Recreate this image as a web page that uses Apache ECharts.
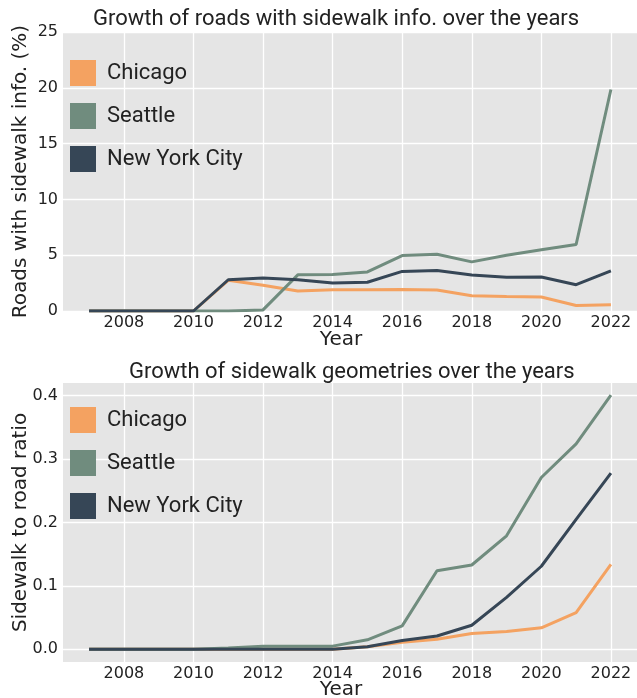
<!DOCTYPE html>
<html>
<head>
<meta charset="utf-8">
<script src="https://cdn.jsdelivr.net/npm/echarts@6/dist/echarts.min.js"></script>
<style>
  html, body { margin: 0; padding: 0; background: #fff; }
  #chart { width: 637px; height: 698px; }
</style>
</head>
<body>
<div id="chart"></div>
<script>
// years on the x axis
const years = [2007, 2008, 2009, 2010, 2011, 2012, 2013, 2014, 2015, 2016, 2017, 2018, 2019, 2020, 2021, 2022]
const yearTicks = [2008, 2010, 2012, 2014, 2016, 2018, 2020, 2022]
const cities = ['Chicago', 'Seattle', 'New York City']

// top: roads with sidewalk info (%)
const infoChicago = [0, 0, 0, 0, 2.75, 2.3, 1.8, 1.9, 1.9, 1.92, 1.88, 1.36, 1.3, 1.25, 0.5, 0.56]
const infoSeattle = [0, 0, 0, 0, 0, 0.1, 3.24, 3.28, 3.5, 4.97, 5.08, 4.4, 5.0, 5.48, 5.96, 19.85]
const infoNYC = [0, 0, 0, 0, 2.8, 2.96, 2.8, 2.5, 2.58, 3.55, 3.62, 3.22, 3.03, 3.05, 2.36, 3.6]

// bottom: sidewalk to road ratio
const ratioChicago = [0, 0, 0, 0, 0, 0, 0, 0, 0.004, 0.011, 0.016, 0.025, 0.028, 0.034, 0.058, 0.134]
const ratioSeattle = [0, 0, 0, 0, 0.002, 0.005, 0.005, 0.005, 0.015, 0.037, 0.124, 0.133, 0.179, 0.271, 0.324, 0.401]
const ratioNYC = [0, 0, 0, 0, 0, 0, 0, 0, 0.004, 0.014, 0.021, 0.038, 0.082, 0.131, 0.205, 0.278]
const ratioTicks = [0, 0.1, 0.2, 0.3, 0.4]

const colors = ['#F4A261', '#708C7E', '#364656']
const tickFont = 'DejaVu Sans'

function pairs (vals) {
    return years.map((y, i) => [y, vals[i]])
}

function xAxisFor (gridIndex, gap) {
    return {
        type: 'value',
        gridIndex: gridIndex,
        min: 2006.25,
        max: 2022.75,
        name: 'Year',
        nameLocation: 'middle',
        nameGap: gap,
        nameMoveOverlap: false,
        nameTextStyle: { fontFamily: tickFont, fontSize: 20, color: '#222', padding: [0, 18, 0, 0] },
        axisLine: { show: false },
        axisTick: { show: false, customValues: yearTicks },
        axisLabel: {
            customValues: yearTicks,
            fontFamily: tickFont,
            fontSize: 16,
            color: '#222',
            margin: 4,
            formatter: v => String(v)
        },
        splitLine: { show: true, lineStyle: { color: '#fff', width: 1.3 } }
    }
}

function lineSeries (name, vals, i, axisIndex) {
    return {
        name: name,
        type: 'line',
        xAxisIndex: axisIndex,
        yAxisIndex: axisIndex,
        data: pairs(vals),
        symbol: 'none',
        color: colors[i],
        lineStyle: { color: colors[i], width: 3 },
        animation: false
    }
}

function legendAt (top) {
    return {
        data: cities,
        orient: 'vertical',
        left: 65,
        top: top,
        icon: 'rect',
        itemWidth: 26,
        itemHeight: 26,
        itemGap: 17,
        textStyle: { fontFamily: 'Roboto', fontSize: 22, color: '#222', padding: [0, 0, 0, 6] }
    }
}

let myChart = echarts.init(document.getElementById('chart'))
let option = {
    backgroundColor: '#fff',
    title: [
        {
            text: 'Growth of roads with sidewalk info. over the years',
            left: 88,
            top: 3,
            textStyle: { fontFamily: 'Roboto', fontSize: 22, fontWeight: 'normal', color: '#222' }
        },
        {
            text: 'Growth of sidewalk geometries over the years',
            left: 124,
            top: 356,
            textStyle: { fontFamily: 'Roboto', fontSize: 22, fontWeight: 'normal', color: '#222' }
        }
    ],
    legend: [legendAt(55), legendAt(402)],
    grid: [
        { left: 63, right: 0, top: 32, height: 279, outerBoundsMode: 'none', show: true, backgroundColor: '#E5E5E5', borderWidth: 0 },
        { left: 63, right: 0, top: 383, height: 279, outerBoundsMode: 'none', show: true, backgroundColor: '#E5E5E5', borderWidth: 0 }
    ],
    xAxis: [xAxisFor(0, 19), xAxisFor(1, 18)],
    yAxis: [
        {
            type: 'value',
            gridIndex: 0,
            min: 0,
            max: 25,
            interval: 5,
            name: 'Roads with sidewalk info. (%)',
            nameLocation: 'middle',
            nameGap: 32,
            nameMoveOverlap: false,
            nameTextStyle: { fontFamily: tickFont, fontSize: 20, color: '#222' },
            axisLine: { show: false },
            axisTick: { show: false },
            axisLabel: { fontFamily: tickFont, fontSize: 16, color: '#222', margin: 5 },
            splitLine: { show: true, lineStyle: { color: '#fff', width: 1.3 } }
        },
        {
            type: 'value',
            gridIndex: 1,
            min: -0.02,
            max: 0.42,
            name: 'Sidewalk to road ratio',
            nameLocation: 'middle',
            nameGap: 32,
            nameMoveOverlap: false,
            nameTextStyle: { fontFamily: tickFont, fontSize: 20, color: '#222' },
            axisLine: { show: false },
            axisTick: { show: false, customValues: ratioTicks },
            axisLabel: {
                customValues: ratioTicks,
                fontFamily: tickFont,
                fontSize: 16,
                color: '#222',
                margin: 5,
                formatter: v => v.toFixed(1)
            },
            splitLine: { show: true, lineStyle: { color: '#fff', width: 1.3 } }
        }
    ],
    series: [
        lineSeries('Chicago', infoChicago, 0, 0),
        lineSeries('Seattle', infoSeattle, 1, 0),
        lineSeries('New York City', infoNYC, 2, 0),
        lineSeries('Chicago', ratioChicago, 0, 1),
        lineSeries('Seattle', ratioSeattle, 1, 1),
        lineSeries('New York City', ratioNYC, 2, 1)
    ]
}
myChart.setOption(option)
</script>
</body>
</html>
